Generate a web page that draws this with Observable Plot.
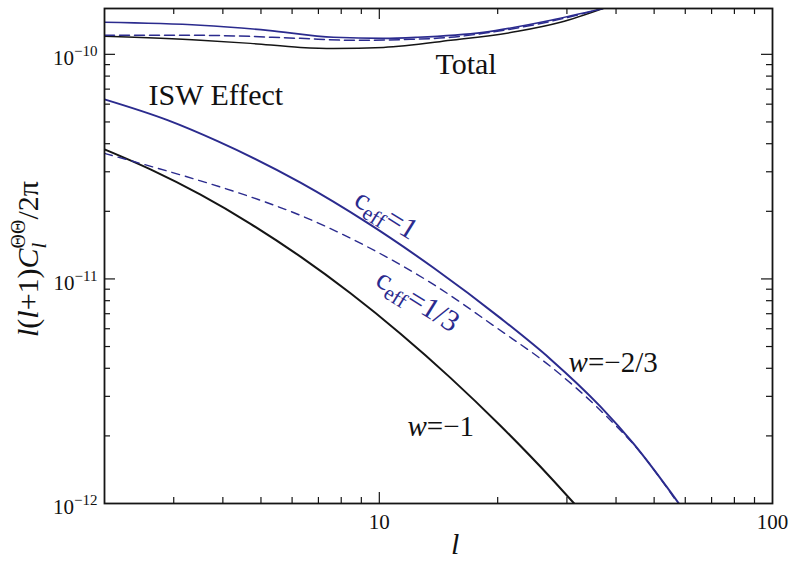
<!DOCTYPE html>
<html><head><meta charset="utf-8">
<script src="https://cdn.jsdelivr.net/npm/d3@7"></script>
<script src="https://cdn.jsdelivr.net/npm/@observablehq/plot@0.6"></script>
<style>
html,body{margin:0;padding:0;background:#fff;}
</style>
</head><body><div id="chart"></div>
<script>
// ---- tick values ----
const xTickLabels = [10, 100];
const yTickLabels = [1e-12, 1e-11, 1e-10];
const xMajor = [10];
const xMinor = [3, 4, 5, 6, 7, 8, 9, 20, 30, 40, 50, 60, 70, 80, 90];
const yMajor = [1e-11, 1e-10];
const yMinor = [2e-12, 3e-12, 4e-12, 5e-12, 6e-12, 7e-12, 8e-12, 9e-12,
                2e-11, 3e-11, 4e-11, 5e-11, 6e-11, 7e-11, 8e-11, 9e-11];

// ---- ISW effect curves ----
const lIswC1 = [2, 2.893, 3.877, 6.303, 9.331, 13.73, 20.33, 27.25, 36.52, 44.31, 57.8];
const iswW23C1 = [6.303e-11, 5.093e-11, 4.106e-11, 2.683e-11, 1.776e-11, 1.121e-11, 6.69e-12, 4.393e-12, 2.699e-12, 1.846e-12, 1.0e-12];

const lIswC13 = [2, 2.371, 3.510, 4.703, 6.303, 9.331, 13.73, 19.98, 27.25, 36.52, 46.16, 57.5];
const iswW23C13 = [3.623e-11, 3.334e-11, 2.733e-11, 2.319e-11, 1.918e-11, 1.389e-11, 9.452e-12, 6.019e-12, 4.076e-12, 2.596e-12, 1.687e-12, 1.0e-12];

const lIswW1 = [2, 2.618, 3.510, 4.703, 6.303, 8.447, 11.32, 15.17, 20.33, 27.25, 31.3];
const iswW1 = [3.775e-11, 3.074e-11, 2.372e-11, 1.760e-11, 1.256e-11, 8.627e-12, 5.701e-12, 3.626e-12, 2.219e-12, 1.306e-12, 1.0e-12];

// ---- Total curves ----
const lTotC1 = [2, 3.51, 5.20, 7.65, 10.25, 12.5, 18.4, 27.3, 37.2];
const totW23C1 = [1.389e-10, 1.347e-10, 1.279e-10, 1.191e-10, 1.178e-10, 1.191e-10, 1.253e-10, 1.418e-10, 1.603e-10];

const lTotC13 = [2, 3.51, 6.30, 8.45, 12.0, 15.2, 18.4, 27.3, 37.2];
const totW23C13 = [1.215e-10, 1.215e-10, 1.178e-10, 1.155e-10, 1.166e-10, 1.191e-10, 1.240e-10, 1.403e-10, 1.603e-10];

const lTotW1 = [2, 3.51, 4.70, 6.30, 7.65, 10.25, 15.2, 22.5, 28.9, 37.2];
const totW1 = [1.203e-10, 1.155e-10, 1.119e-10, 1.074e-10, 1.063e-10, 1.074e-10, 1.155e-10, 1.266e-10, 1.389e-10, 1.603e-10];

const pts = (ls, vs) => ls.map((l, i) => ({l, v: vs[i]}));

const W = 795, H = 561;
const mL = 104, mR = 23, mT = 8, mB = 58;
const pw = W - mL - mR, ph = H - mT - mB;
const blue = "#2b2b8e", black = "#151515";
const serif = "'Liberation Serif', 'Times New Roman', serif";

const lineOpts = (stroke, sw, dash) => ({x: "l", y: "v", stroke, strokeWidth: sw, strokeDasharray: dash, curve: "monotone-x", clip: true});

const plot = Plot.plot({
  width: W, height: H,
  marginLeft: mL, marginRight: mR, marginTop: mT, marginBottom: mB,
  style: {fontFamily: serif, fontSize: "21px", background: "#fff", color: "#111"},
  x: {type: "log", domain: [2, 100]},
  y: {type: "log", domain: [1e-12, 1.6e-10]},
  marks: [
    // Total
    Plot.line(pts(lTotW1, totW1), lineOpts(black, 1.5)),
    Plot.line(pts(lTotC13, totW23C13), lineOpts(blue, 1.5, "10,5")),
    Plot.line(pts(lTotC1, totW23C1), lineOpts(blue, 1.6)),
    // ISW
    Plot.line(pts(lIswW1, iswW1), lineOpts(black, 2)),
    Plot.line(pts(lIswC13, iswW23C13), lineOpts(blue, 1.4, "8,6")),
    Plot.line(pts(lIswC1, iswW23C1), lineOpts(blue, 2)),
    // inward ticks
    Plot.tickX(xMajor, {x: d => d, insetTop: ph - 11, stroke: black, strokeWidth: 1.2}),
    Plot.tickX(xMinor, {x: d => d, insetTop: ph - 6, stroke: black, strokeWidth: 1.2}),
    Plot.tickX(xMajor, {x: d => d, insetBottom: ph - 11, stroke: black, strokeWidth: 1.2}),
    Plot.tickX(xMinor, {x: d => d, insetBottom: ph - 6, stroke: black, strokeWidth: 1.2}),
    Plot.tickY(yMajor, {y: d => d, insetRight: pw - 11, stroke: black, strokeWidth: 1.2}),
    Plot.tickY(yMinor, {y: d => d, insetRight: pw - 6, stroke: black, strokeWidth: 1.2}),
    Plot.tickY(yMajor, {y: d => d, insetLeft: pw - 11, stroke: black, strokeWidth: 1.2}),
    Plot.tickY(yMinor, {y: d => d, insetLeft: pw - 6, stroke: black, strokeWidth: 1.2}),
    Plot.frame({stroke: black, strokeWidth: 1.8}),
    Plot.axisX({ticks: xTickLabels, tickSize: 0, tickPadding: 11, fontSize: 21, tickFormat: d => String(d), label: null}),
    Plot.axisY({ticks: yTickLabels, tickSize: 0, tickPadding: 7, dy: 4, fontSize: 21,
      tickFormat: d => "10−" + Math.round(-Math.log10(d)), label: null}),
    // annotations
    Plot.text([{x: 2.588, y: 6.57e-11, t: "ISW Effect"}], {x: "x", y: "y", text: "t", textAnchor: "start", fontSize: 30, fill: "#111"}),
    Plot.text([{x: 13.89, y: 9.03e-11, t: "Total"}], {x: "x", y: "y", text: "t", textAnchor: "start", fontSize: 30, fill: "#111"}),
    Plot.text([{x: 11.79, y: 2.2e-12, t: "w=−1"}], {x: "x", y: "y", text: "t", textAnchor: "start", fontSize: 29, fill: "#111"}),
    Plot.text([{x: 30.3, y: 4.25e-12, t: "w=−2/3"}], {x: "x", y: "y", text: "t", textAnchor: "start", fontSize: 29, fill: "#111"}),
    Plot.text([{x: 10.43, y: 1.94e-11, t: "ceff=1"}], {x: "x", y: "y", text: "t", rotate: 32, fontSize: 30, fill: blue}),
    Plot.text([{x: 12.54, y: 8.02e-12, t: "ceff=1/3"}], {x: "x", y: "y", text: "t", rotate: 32, fontSize: 30, fill: blue}),
    Plot.text([{x: 15.6, t: "l"}], {x: "x", text: "t", frameAnchor: "bottom", lineAnchor: "bottom", dy: 50, fontSize: 30, fontStyle: "italic", fill: "#111"}),
    Plot.text(["l(l+1)CΘΘl/2π"], {text: d => d, frameAnchor: "left", textAnchor: "middle", lineAnchor: "middle", dx: -76, dy: 3, rotate: -90, fontSize: 30, fill: "#111"})
  ]
});

document.getElementById("chart").appendChild(plot);

const NS = "http://www.w3.org/2000/svg";
function setRich(el, parts) {
  while (el.firstChild) el.removeChild(el.firstChild);
  const spans = [];
  for (const p of parts) {
    const ts = document.createElementNS(NS, "tspan");
    ts.textContent = p.t;
    if (p.italic) ts.setAttribute("font-style", "italic");
    if (p.size) ts.style.fontSize = p.size + "px";
    if (p.dy != null) ts.setAttribute("dy", p.dy);
    if (p.dx != null) ts.setAttribute("dx", p.dx);
    el.appendChild(ts);
    spans.push(ts);
  }
  return spans;
}

for (const el of plot.querySelectorAll("text")) {
  const s = el.textContent;
  let m;
  if ((m = s.match(/^10−(\d+)$/))) {
    el.style.fontSize = "21px";
    setRich(el, [{t: "10", size: 21}, {t: "−" + m[1], size: 15, dy: -9}]);
  } else if (s === "10" || s === "100") {
    el.style.fontSize = "21px";
  } else if (s === "ceff=1" || s === "ceff=1/3") {
    setRich(el, [{t: "c"}, {t: "eff", size: 21, dy: 6}, {t: s.slice(4), dy: -6}]);
  } else if (s === "w=−1" || s === "w=−2/3") {
    setRich(el, [{t: "w", italic: true}, {t: s.slice(1)}]);
  } else if (s === "l(l+1)CΘΘl/2π") {
    const sp = setRich(el, [
      {t: "l", italic: true}, {t: "("}, {t: "l", italic: true}, {t: "+1)"},
      {t: "C", italic: true},
      {t: "ΘΘ", size: 20, dy: -13},
      {t: "l", italic: true, size: 21, dy: 21},
      {t: "/2π", dy: -8}
    ]);
    const wTheta = sp[5].getComputedTextLength();
    const wL = sp[6].getComputedTextLength();
    sp[6].setAttribute("dx", -wTheta);
    sp[7].setAttribute("dx", wTheta - wL);
  }
}
</script>
</body></html>
